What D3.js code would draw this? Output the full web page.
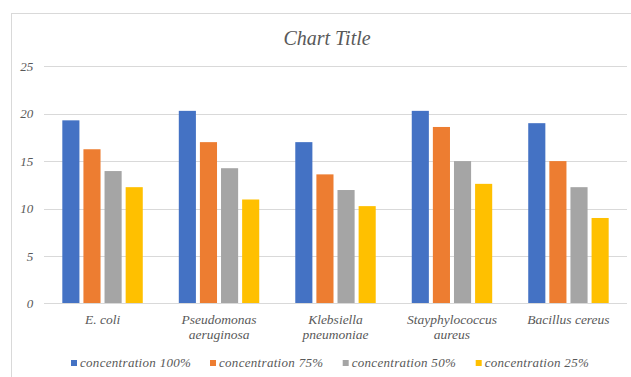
<!DOCTYPE html>
<html>
<head>
<meta charset="utf-8">
<script src="https://cdn.jsdelivr.net/npm/d3@7"></script>
<style>
  html, body { margin: 0; padding: 0; background: #fff; }
  svg { display: block; }
</style>
</head>
<body>
<svg id="chart" width="631" height="377"></svg>
<script>
// Inhibition zone values per bacterium and extract concentration
const categories = [
  ["E. coli"],
  ["Pseudomonas", "aeruginosa"],
  ["Klebsiella", "pneumoniae"],
  ["Stayphylococcus", "aureus"],
  ["Bacillus cereus"]
];
const seriesNames = ["concentration 100%", "concentration 75%", "concentration 50%", "concentration 25%"];
const conc100 = [19.3, 20.3, 17.0, 20.3, 19.0];
const conc75  = [16.25, 17.0, 13.6, 18.6, 15.0];
const conc50  = [13.95, 14.25, 11.95, 15.0, 12.25];
const conc25  = [12.25, 10.95, 10.25, 12.6, 9.0];
const yTicks = [0, 5, 10, 15, 20, 25];
const colors = ["#4472C4", "#ED7D31", "#A5A5A5", "#FFC000"];

const seriesValues = [conc100, conc75, conc50, conc25];
const catKeys = categories.map(c => c.join(" "));
const FONT = "'Liberation Serif', 'DejaVu Serif', serif";

const svg = d3.select("#chart");

// Chart frame
svg.append("rect")
  .attr("x", 11.5).attr("y", 13.5)
  .attr("width", 640).attr("height", 400)
  .attr("fill", "none").attr("stroke", "#d9d9d9").attr("stroke-width", 1);

const plot = { left: 44.3, right: 626.7, top: 66.3, bottom: 303.3 };

const y = d3.scaleLinear().domain([0, 25]).range([plot.bottom, plot.top]);
const x0 = d3.scaleBand().domain(catKeys).range([plot.left, plot.right])
  .paddingInner(0.275).paddingOuter(0.1375);
const x1 = d3.scaleBand().domain(seriesNames).range([0, x0.bandwidth()]);

function styleText(sel, size) {
  sel.attr("font-family", FONT)
    .attr("font-style", "italic")
    .attr("font-size", size)
    .attr("fill", "#595959");
}

// Title
svg.append("text")
  .attr("x", 327).attr("y", 44.5)
  .attr("text-anchor", "middle")
  .call(styleText, 20)
  .text("Chart Title");

// Gridlines and y tick labels
const yAxis = d3.axisLeft(y).tickValues(yTicks).tickSize(-(plot.right - plot.left)).tickPadding(11);
const gy = svg.append("g").attr("transform", `translate(${plot.left},0)`).call(yAxis);
gy.attr("font-family", null).attr("font-size", null);
gy.select(".domain").remove();
gy.selectAll(".tick line").attr("stroke", "#d9d9d9").attr("stroke-width", 1)
  .attr("shape-rendering", "crispEdges");
gy.selectAll(".tick text").call(styleText, 13);

// Bars
const groups = svg.append("g").selectAll("g")
  .data(catKeys)
  .join("g")
  .attr("transform", d => `translate(${x0(d)},0)`);

groups.selectAll("rect")
  .data((d, i) => seriesNames.map((s, j) => ({ s, v: seriesValues[j][i], j })))
  .join("rect")
  .attr("x", d => x1(d.s) + 2)
  .attr("width", x1.bandwidth() - 4)
  .attr("y", d => y(d.v))
  .attr("height", d => y(0) - y(d.v))
  .attr("fill", d => colors[d.j]);

// Category axis baseline
svg.append("line")
  .attr("x1", plot.left).attr("x2", plot.right)
  .attr("y1", Math.round(y(0)) + 0.5).attr("y2", Math.round(y(0)) + 0.5)
  .attr("stroke", "#d9d9d9").attr("stroke-width", 1);

// Category labels (wrapped)
const xLabels = svg.append("g").selectAll("text")
  .data(categories)
  .join("text")
  .attr("text-anchor", "middle")
  .attr("x", (d, i) => x0(catKeys[i]) + x0.bandwidth() / 2)
  .attr("y", 324)
  .call(styleText, 13.5);
xLabels.selectAll("tspan")
  .data(d => d)
  .join("tspan")
  .attr("x", function () { return this.parentNode.getAttribute("x"); })
  .attr("dy", (d, i) => i === 0 ? 0 : 15)
  .text(d => d);

// Legend
const legendX = [71, 210, 342.7, 475.7];
const legend = svg.append("g").selectAll("g")
  .data(seriesNames)
  .join("g")
  .attr("transform", (d, i) => `translate(${legendX[i]},360)`);
legend.append("rect")
  .attr("width", 6).attr("height", 6)
  .attr("fill", (d, i) => colors[i]);
legend.append("text")
  .attr("x", 9).attr("y", 6.5)
  .call(styleText, 13)
  .attr("letter-spacing", 0.3)
  .text(d => d);
</script>
</body>
</html>
